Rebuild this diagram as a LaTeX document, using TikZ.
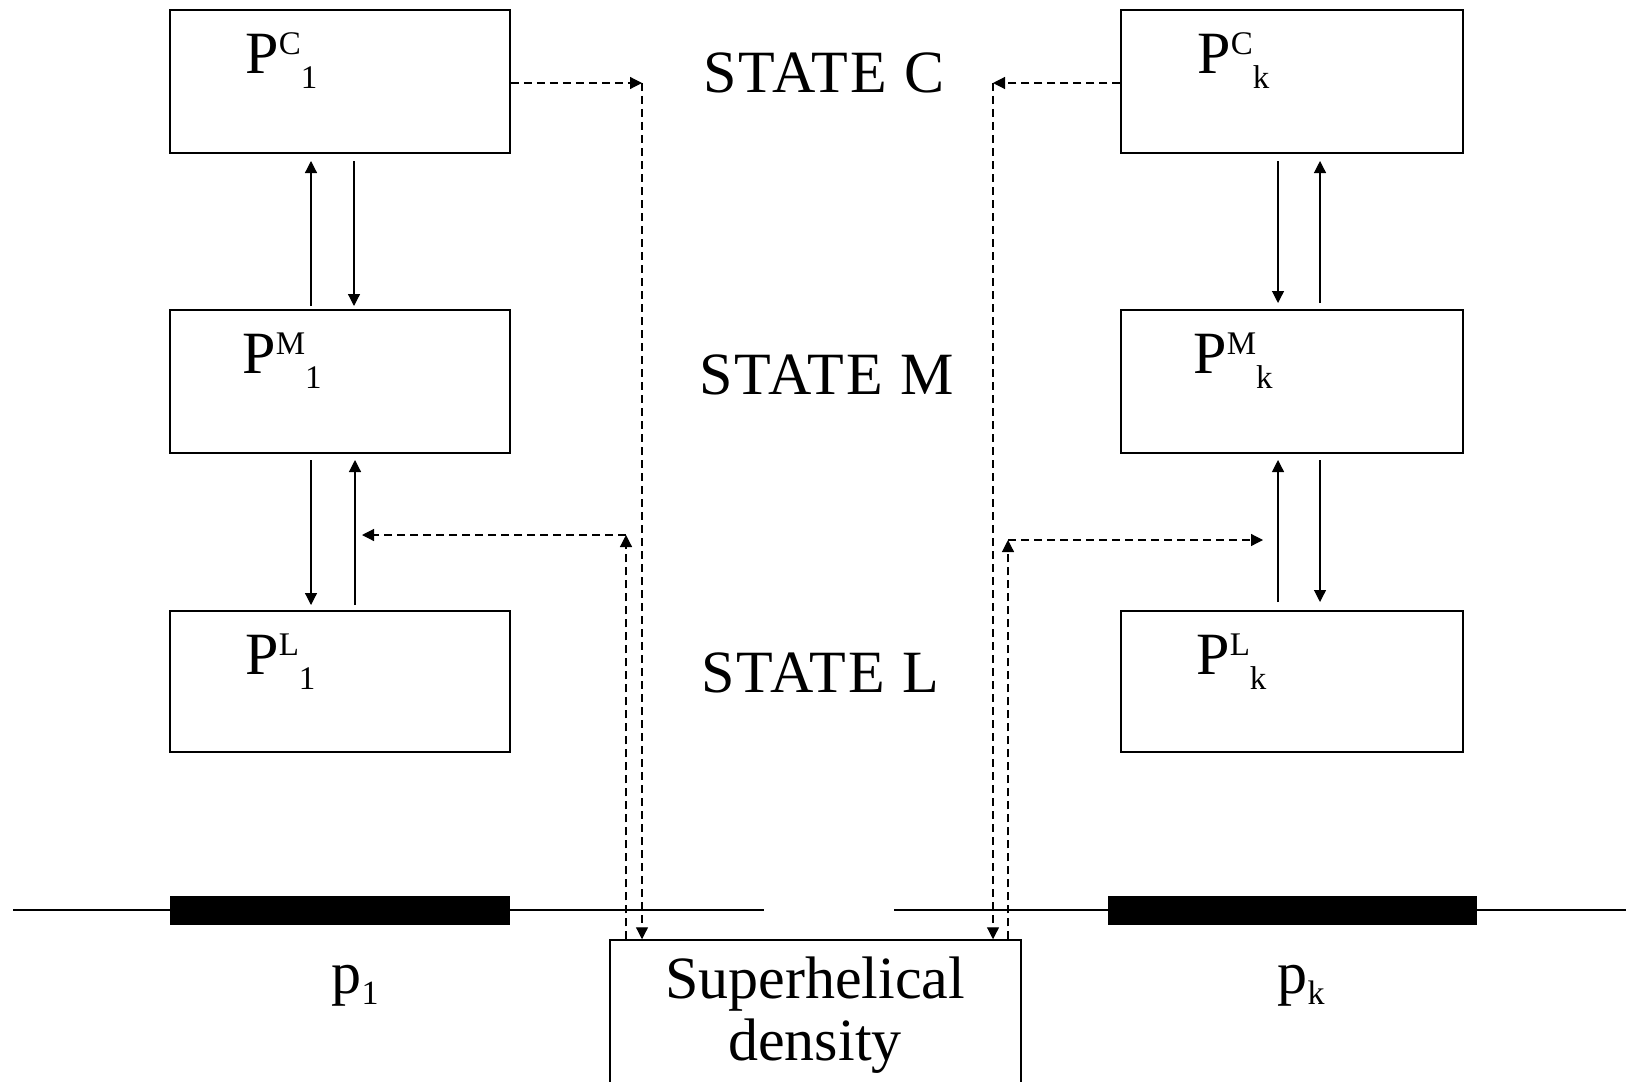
\documentclass[tikz,border=0pt]{standalone}
\usepackage{fontspec}
\setmainfont{Liberation Serif}
\newfontfamily\statefont[LetterSpace=3.5]{Liberation Serif}
\usetikzlibrary{arrows.meta,calc}
\newcommand\PLab[2]{P\raisebox{9.5pt}{\fontsize{16.5}{16.5}\selectfont #1}\raisebox{-7.5pt}{\fontsize{16.5}{16.5}\selectfont #2}}
\newcommand\pLab[1]{p\raisebox{-5.5pt}{\fontsize{17}{17}\selectfont #1}}
\begin{document}
\begin{tikzpicture}[x=0.5pt,y=-0.5pt,
  box/.style={draw, line width=0.75pt, inner sep=0pt},
  lbl/.style={inner sep=0pt, anchor=base west, font=\fontsize{30}{36}\selectfont},
  stl/.style={inner sep=0pt, anchor=base west, font=\statefont\fontsize{30}{36}\selectfont},
  big/.style={inner sep=0pt, font=\fontsize{30}{36}\selectfont},
  gene/.style={fill=black, inner sep=0pt, minimum width=170pt, minimum height=14.5pt},
  sarr/.style={line width=0.6pt, -{Triangle[length=6pt,width=6pt]}},
  darr/.style={line width=0.6pt, dash pattern=on 4pt off 2.5pt, -{Triangle[length=6pt,width=6pt]}}]
\useasboundingbox (0,0) rectangle (1626,1081);
\clip (0,0) rectangle (1626,1081);
% boxes
\node[box, minimum width=170pt, minimum height=71.5pt] (c1) at (340,81.5) {};
\node[box, minimum width=170pt, minimum height=71.5pt] (m1) at (340,381.5) {};
\node[box, minimum width=170pt, minimum height=70.5pt] (l1) at (340,681.5) {};
\node[box, minimum width=171pt, minimum height=71.5pt] (ck) at (1292,81.5) {};
\node[box, minimum width=171pt, minimum height=71.5pt] (mk) at (1292,381.5) {};
\node[box, minimum width=171pt, minimum height=70.5pt] (lk) at (1292,681.5) {};
% labels
\node[lbl] (tc1) at (245,74) {\PLab{C}{1}};
\node[lbl] (tm1) at (242,373) {\PLab{M}{1}};
\node[lbl] (tl1) at (245,674) {\PLab{L}{1}};
\node[lbl] (tck) at (1197,74) {\PLab{C}{k}};
\node[lbl] (tmk) at (1193,373) {\PLab{M}{k}};
\node[lbl] (tlk) at (1196,674) {\PLab{L}{k}};
\node[stl] (sc) at (703,93) {STATE C};
\node[stl] (sm) at (699,394) {STATE M};
\node[stl] (sl) at (701,692) {STATE L};
% DNA line
\coordinate (a0) at (13,910);
\coordinate (a1) at (764,910);
\coordinate (b0) at (894,910);
\coordinate (b1) at (1626,910);
\draw[line width=0.6pt] (a0) -- (a1);
\draw[line width=0.6pt] (b0) -- (b1);
\node[gene] (g1) at (340,910.5) {};
\node[gene, minimum width=184.5pt] (gk) at (1292.5,910.5) {};
\node[big, anchor=base] (p1) at (355,993) {\pLab{1}};
\node[big, anchor=base] (pk) at (1301,993) {\pLab{k}};
% superhelical box
\node[box, minimum width=205.5pt, minimum height=90pt] (sd) at (815.5,1030) {};
\node[big, anchor=base] (sdt1) at (815,998) {Superhelical};
\node[big, anchor=base] (sdt2) at (815,1060) {density};
% solid arrows left
\coordinate (u1a) at (311,306); \coordinate (u1b) at (311,161);
\coordinate (d1a) at (354,161); \coordinate (d1b) at (354,306);
\coordinate (d2a) at (311,460); \coordinate (d2b) at (311,605);
\coordinate (u2a) at (355,605); \coordinate (u2b) at (355,460);
\draw[sarr] (u1a) -- (u1b);
\draw[sarr] (d1a) -- (d1b);
\draw[sarr] (d2a) -- (d2b);
\draw[sarr] (u2a) -- (u2b);
% solid arrows right
\coordinate (rd1a) at (1278,161); \coordinate (rd1b) at (1278,303);
\coordinate (ru1a) at (1320,303); \coordinate (ru1b) at (1320,161);
\coordinate (ru2a) at (1278,602); \coordinate (ru2b) at (1278,460);
\coordinate (rd2a) at (1320,460); \coordinate (rd2b) at (1320,602);
\draw[sarr] (rd1a) -- (rd1b);
\draw[sarr] (ru1a) -- (ru1b);
\draw[sarr] (ru2a) -- (ru2b);
\draw[sarr] (rd2a) -- (rd2b);
% dashed connectors left
\coordinate (cl1) at (642,83);
\coordinate (cl2) at (626,535);
\coordinate (tl) at (362,535);
\draw[darr] (c1.east |- cl1) -- (cl1);
\draw[darr] (cl1) -- (cl1 |- sd.north);
\draw[darr] (cl2 |- sd.north) -- (cl2);
\draw[darr] (cl2) -- (tl);
% dashed connectors right
\coordinate (cr1) at (993,83);
\coordinate (cr2) at (1008,540);
\coordinate (tr) at (1263,540);
\draw[darr] (ck.west |- cr1) -- (cr1);
\draw[darr] (cr1) -- (cr1 |- sd.north);
\draw[darr] (cr2 |- sd.north) -- (cr2);
\draw[darr] (cr2) -- (tr);
\end{tikzpicture}
\end{document}
